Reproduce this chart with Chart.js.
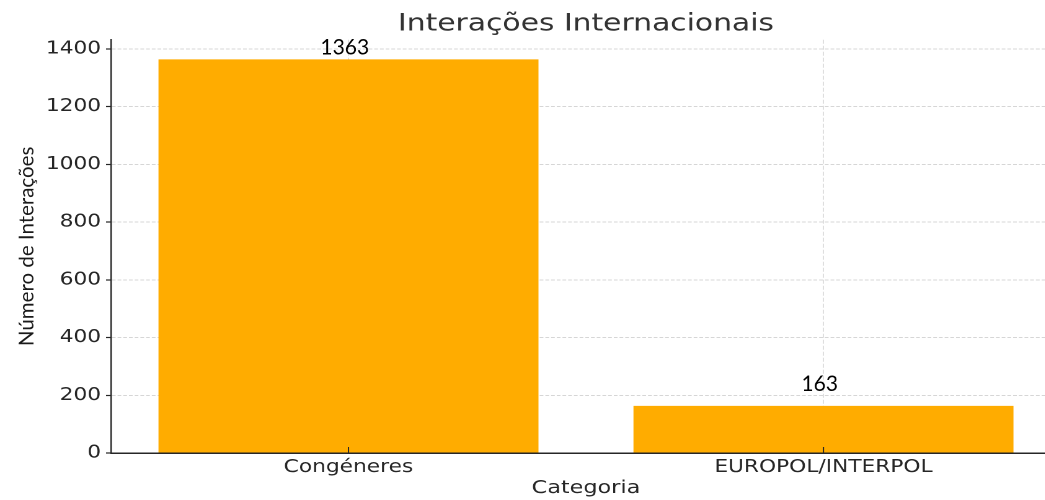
<!DOCTYPE html>
<html>
<head>
<meta charset="utf-8">
<script src="https://cdn.jsdelivr.net/npm/chart.js@4.4.1/dist/chart.umd.min.js"></script>
<style>
html, body { margin: 0; padding: 0; background: #fff; overflow: hidden; }
#wrap { width: 1045px; height: 500px; overflow: hidden; }
/* the reference text is stretched sideways, so the whole chart is drawn narrow and scaled */
#stage { width: 871px; height: 500px; transform: scaleX(1.24); transform-origin: 0 0; }
</style>
</head>
<body>
<div id="wrap"><div id="stage"><canvas id="barChart" width="871" height="500"></canvas></div></div>
<script>
const categories = ['Congéneres', 'EUROPOL/INTERPOL'];
const interactions = [1363, 163];
const yTicks = [0, 200, 400, 600, 800, 1000, 1200, 1400];
const yMax = 1431;
const chartTitle = 'Interações Internacionais';
const xTitle = 'Categoria';
const yTitle = 'Número de Interações';

const S = 1.24;
const dark = '#262626';
const gridColor = 'rgba(165,165,165,0.45)';
const tickFont = { family: 'DejaVu Sans', size: 17.5 };

// labels added on top of the plot (not stretched in the reference)
const annotations = {
    id: 'annotations',
    afterDraw(chart, args, opts) {
        const ctx = chart.ctx, xs = chart.scales.x, area = chart.chartArea;
        ctx.save();
        ctx.strokeStyle = dark; ctx.lineWidth = 1;
        xs.ticks.forEach((t, i) => {
            const px = xs.getPixelForTick(i);
            ctx.beginPath(); ctx.moveTo(px, area.bottom); ctx.lineTo(px, area.bottom - 6); ctx.stroke();
        });

        ctx.fillStyle = '#000'; ctx.font = '21px Lato'; ctx.textAlign = 'center'; ctx.textBaseline = 'alphabetic';
        chart.getDatasetMeta(0).data.forEach((bar, i) => {
            ctx.save();
            ctx.translate(bar.x - 3, bar.y - opts.gaps[i]);
            ctx.scale(1 / S, 1);
            ctx.fillText(String(interactions[i]), 0, 0);
            ctx.restore();
        });

        ctx.save();
        ctx.translate(21.8, (area.top + area.bottom) / 2);
        ctx.scale(1 / S, 1);
        ctx.rotate(-Math.PI / 2);
        ctx.font = '20.5px Lato'; ctx.textBaseline = 'middle'; ctx.fillStyle = '#1a1a1a';
        ctx.fillText(yTitle, 0, 0);
        ctx.restore();
        ctx.restore();
    }
};

new Chart(document.getElementById('barChart'), {
    type: 'bar',
    data: {
        labels: categories,
        datasets: [{ data: interactions, backgroundColor: '#ffac00', borderWidth: 0, barPercentage: 0.8, categoryPercentage: 1.0 }]
    },
    options: {
        responsive: false, animation: false, devicePixelRatio: 2,
        layout: { padding: { right: 15.4 } },
        plugins: {
            legend: { display: false }, tooltip: { enabled: false },
            title: { display: true, text: chartTitle, fullSize: false, color: '#333', font: { family: 'DejaVu Sans', size: 24, weight: 'normal' }, padding: { top: 10, bottom: 1 } },
            annotations: { gaps: [5, 15] }
        },
        scales: {
            x: {
                z: 1, offset: true,
                grid: { offset: false, drawTicks: false, color: gridColor, lineWidth: 0.8 },
                border: { color: dark, width: 1.5, dash: [4, 2] },
                ticks: { font: tickFont, color: dark, padding: 4 },
                title: { display: true, text: xTitle, color: dark, font: { family: 'DejaVu Sans', size: 18 }, padding: { top: 0, bottom: 1 } },
                afterFit(s) { s.height = 47; }
            },
            y: {
                z: 1, min: 0, max: yMax,
                grid: { color: gridColor, lineWidth: 1, tickLength: 4, tickColor: dark, tickWidth: 1.2 },
                border: { color: dark, width: 1.2, dash: [3, 1.6] },
                ticks: { font: tickFont, color: dark, padding: 4, callback: v => String(v) },
                afterBuildTicks(s) { s.ticks = yTicks.map(v => ({ value: v })); },
                afterFit(s) { s.width = 89.5; }
            }
        }
    },
    plugins: [annotations]
});
</script>
</body>
</html>
